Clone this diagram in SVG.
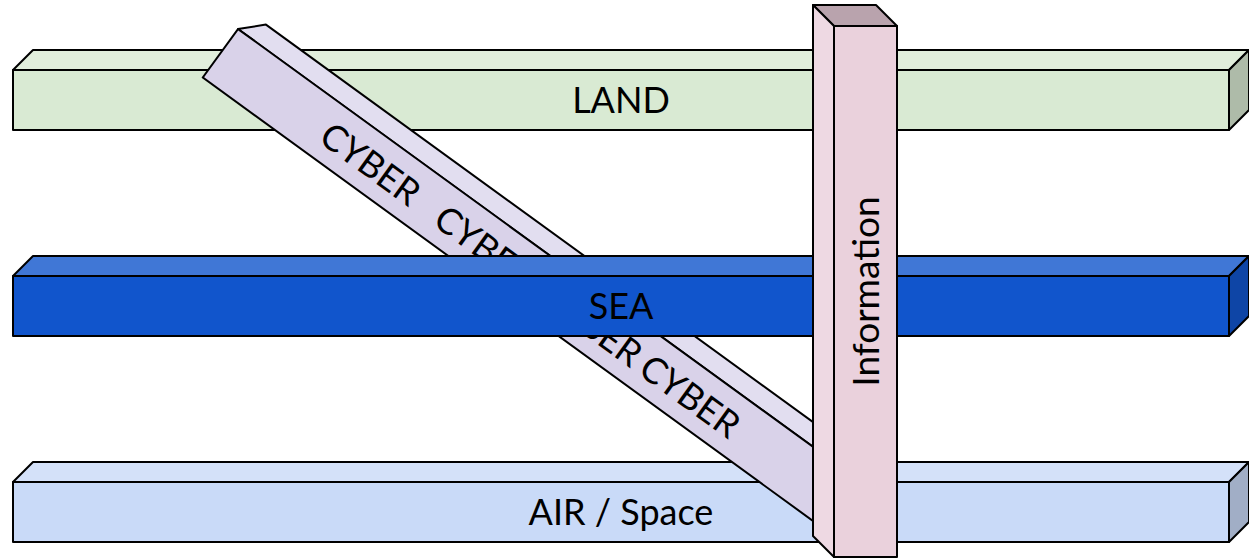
<svg xmlns="http://www.w3.org/2000/svg" width="1249" height="559" viewBox="0 0 1249 559">
<style>
.s{stroke:#000;stroke-width:2;stroke-linejoin:round}
.lbl{font-family:Lato,"Liberation Sans",sans-serif;font-size:36px;fill:#000}
</style>
<rect width="1249" height="559" fill="#fff"/>
<g id="land">
<polygon class="s" fill="#e1eedc" points="13,70 33,50 1249,50 1229,70"/>
<polygon class="s" fill="#aebba9" points="1229,70 1249,50 1249,110 1229,130"/>
<rect class="s" fill="#d9ead3" x="13" y="70" width="1216" height="60"/>
<text class="lbl" x="621" y="113" text-anchor="middle">LAND</text>
</g>
<g id="air">
<polygon class="s" fill="#d4e1f9" points="13,482 33,462 1249,462 1229,482"/>
<polygon class="s" fill="#a1aec6" points="1229,482 1249,462 1249,522 1229,542"/>
<rect class="s" fill="#c9daf8" x="13" y="482" width="1216" height="60"/>
<text class="lbl" x="621" y="525" text-anchor="middle">AIR / Space</text>
</g>
<g id="cyber" transform="translate(238,29) rotate(36)">
<polygon class="s" fill="#e2def0" points="0,0 20,-20 795,-20 775,0"/>
<polygon class="s" fill="#b5aec4" points="775,0 795,-20 795,40 775,60"/>
<rect class="s" fill="#d9d2e9" x="0" y="0" width="775" height="60"/>
<text class="lbl" y="44"><tspan x="130">CYBER</tspan><tspan x="271">CYBER</tspan><tspan x="404">CYBER</tspan><tspan x="525">CYBER</tspan></text>
</g>
<g id="sea">
<polygon class="s" fill="#4077d6" points="13,276 33,256 1249,256 1229,276"/>
<polygon class="s" fill="#0e45a6" points="1229,276 1249,256 1249,316 1229,336"/>
<rect class="s" fill="#1155cc" x="13" y="276" width="1216" height="60"/>
<text class="lbl" x="621" y="319" text-anchor="middle">SEA</text>
</g>
<g id="information">
<polygon class="s" fill="#b9a3ad" points="834,26 813,5 876,5 897,26"/>
<polygon class="s" fill="#eed9e3" points="834,26 813,5 813,536 834,557"/>
<rect class="s" fill="#ead1dc" x="834" y="26" width="63" height="531"/>
<text class="lbl" style="font-size:37px" transform="translate(879,291.5) rotate(-90)" text-anchor="middle">Information</text>
</g>
<g id="connectors"/>
</svg>
